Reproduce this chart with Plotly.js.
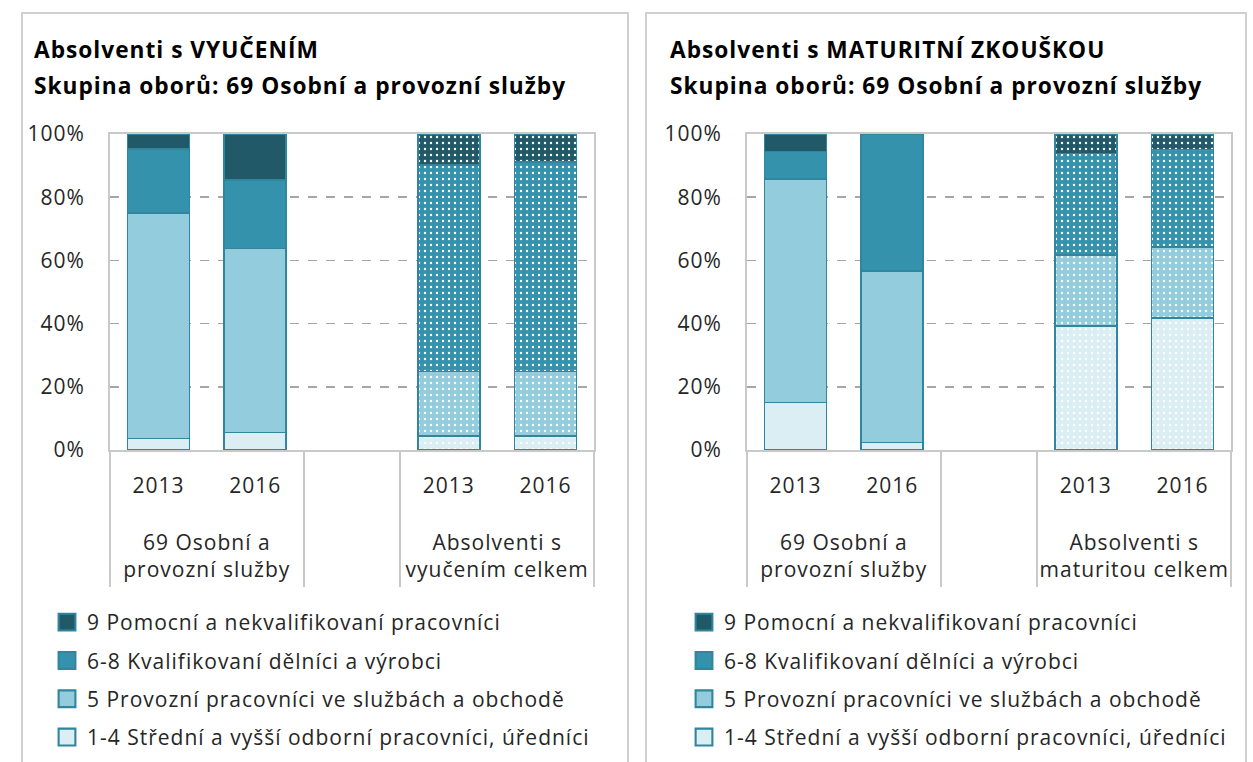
<!DOCTYPE html>
<html>
<head>
<meta charset="utf-8">
<script src="https://cdn.plot.ly/plotly-3.0.1.min.js"></script>
<style>html,body{margin:0;padding:0;background:#fff;}#chart{width:1253px;height:762px;}text{letter-spacing:1px;}</style>
</head>
<body>
<div id="chart"></div>
<script>
// ---- data (percent shares) ----
const years = ['2013', '2016'];
const groupsLeft = ['69 Osobní a<br>provozní služby', 'Absolventi s<br>vyučením celkem'];
const groupsRight = ['69 Osobní a<br>provozní služby', 'Absolventi s<br>maturitou celkem'];
const seriesNames = [
  '1-4 Střední a vyšší odborní pracovníci, úředníci',
  '5 Provozní pracovníci ve službách a obchodě',
  '6-8 Kvalifikovaní dělníci a výrobci',
  '9 Pomocní a nekvalifikovaní pracovníci'
];
// left chart: Absolventi s VYUČENÍM  (order: group1 2013, 2016, group2 2013, 2016)
const left_1_4 = [3.7, 5.6, 4.4, 4.4];
const left_5   = [71.3, 58.1, 20.4, 20.4];
const left_6_8 = [20.2, 21.7, 65.4, 66.4];
const left_9   = [4.8, 14.6, 9.8, 8.8];
// right chart: Absolventi s MATURITNÍ ZKOUŠKOU
const right_1_4 = [15.0, 2.4, 39.2, 41.7];
const right_5   = [70.8, 54.2, 22.5, 22.6];
const right_6_8 = [8.6, 43.4, 32.2, 30.8];
const right_9   = [5.6, 0, 6.1, 4.9];
const yTicks = [0, 20, 40, 60, 80, 100];
const titleLeft = ['Absolventi s VYUČENÍM', 'Skupina oborů: 69 Osobní a provozní služby'];
const titleRight = ['Absolventi s MATURITNÍ ZKOUŠKOU', 'Skupina oborů: 69 Osobní a provozní služby'];

// ---- styling ----
const colors = ['#daeef3', '#93cddd', '#3592ad', '#215968'];
const lineColor = '#31859c';
const FONT = '"Open Sans", sans-serif';
const W = 1253, H = 762;
const px = v => v / W, py = v => (H - v) / H;

function xcats(groups) {
  // leading <br> leaves the gap between year row and group row
  const g = groups.map(s => '<br>' + s);
  const parents = [g[0], g[0], ' ', g[1], g[1]];
  const kids = [years[0], years[1], ' ', years[0], years[1]];
  return [parents, kids];
}
function withGap(arr) { return [arr[0], arr[1], null, arr[2], arr[3]]; }

const traces = [];
function addChart(groups, series, xa, ya, legendId) {
  const x = xcats(groups);
  series.forEach((vals, i) => {
    traces.push({
      type: 'bar', x: x, y: withGap(vals), name: seriesNames[i],
      xaxis: xa, yaxis: ya, legend: legendId, legendgroup: legendId + i,
      legendrank: series.length - i,
      width: 0.64,
      marker: {
        color: colors[i],
        line: {color: lineColor, width: 1.5},
        pattern: {shape: ['', '', '', '.', '.'], fgcolor: '#ffffff', bgcolor: colors[i],
                  fillmode: 'replace', size: 6, solidity: 0.12}
      },
      hoverinfo: 'skip'
    });
  });
}
addChart(groupsLeft, [left_1_4, left_5, left_6_8, left_9], 'x', 'y', 'legend');
addChart(groupsRight, [right_1_4, right_5, right_6_8, right_9], 'x2', 'y2', 'legend2');

const tickFont = {family: FONT, size: 21, color: '#262626'};
function xaxis(domain, anchor) {
  return {
    domain: domain, anchor: anchor, type: 'multicategory',
    showline: true, linecolor: '#c9c9c9', linewidth: 2, mirror: true,
    showgrid: false, ticks: '', tickfont: tickFont, ticklabelstandoff: 16,
    showdividers: true, dividercolor: '#c9c9c9', dividerwidth: 2,
    fixedrange: true
  };
}
function yaxis(anchor) {
  return {
    domain: [py(450), py(134)], anchor: anchor, range: [0, 100],
    tickvals: yTicks, ticktext: yTicks.map(v => v + '%'),
    showline: true, linecolor: '#c9c9c9', linewidth: 2, mirror: true,
    showgrid: true, gridcolor: '#a6a6a6', gridwidth: 1.5, griddash: 'dash',
    zeroline: false, ticks: '', tickfont: tickFont, ticklabelstandoff: 19,
    fixedrange: true
  };
}

const titleFont = {family: FONT, size: 22.7, color: '#000000', weight: 'bold'};
const annotations = [];
[[titleLeft, 32], [titleRight, 668]].forEach(([t, x0]) => {
  annotations.push({xref: 'paper', yref: 'paper', x: px(x0), y: py(49), xanchor: 'left', yanchor: 'middle', text: '<b>' + t[0] + '</b>', showarrow: false, font: titleFont});
  annotations.push({xref: 'paper', yref: 'paper', x: px(x0), y: py(86), xanchor: 'left', yanchor: 'middle', text: '<b>' + t[1] + '</b>', showarrow: false, font: titleFont});
});

const shapes = [
  {type: 'rect', xref: 'paper', yref: 'paper', x0: px(22), x1: px(628), y0: -0.05, y1: py(13), line: {color: '#d0d0d0', width: 2}, layer: 'below'},
  {type: 'rect', xref: 'paper', yref: 'paper', x0: px(646), x1: px(1246), y0: -0.05, y1: py(13), line: {color: '#d0d0d0', width: 2}, layer: 'below'}
];

const legendBase = {
  orientation: 'v', traceorder: 'grouped', yanchor: 'top', y: py(602),
  font: {family: FONT, size: 21, color: '#262626'}, tracegroupgap: 8,
  bgcolor: 'rgba(0,0,0,0)', itemclick: false, itemdoubleclick: false
};

const layout = {
  width: W, height: H, margin: {l: 0, r: 0, t: 0, b: 0},
  paper_bgcolor: '#ffffff', plot_bgcolor: '#ffffff',
  barmode: 'stack', bargap: 0.36,
  font: {family: FONT, color: '#262626'},
  xaxis: xaxis([px(110), px(594)], 'y'),
  yaxis: yaxis('x'),
  xaxis2: xaxis([px(747), px(1231)], 'y2'),
  yaxis2: yaxis('x2'),
  legend: Object.assign({}, legendBase, {x: px(47), xanchor: 'left'}),
  legend2: Object.assign({}, legendBase, {x: px(684), xanchor: 'left'}),
  annotations: annotations,
  shapes: shapes,
  showlegend: true
};

Plotly.newPlot('chart', traces, layout, {staticPlot: true, displayModeBar: false}).then(() => {
  const root = document.getElementById('chart');
  // enlarge legend swatches to the reference's square size
  root.querySelectorAll('.legendpoints path').forEach(p => {
    const t = p.getAttribute('transform') || '';
    p.setAttribute('transform', t + ' scale(1.4)');
  });
  // push the group (second-level) category labels down a little, as in the reference
  root.querySelectorAll('.xtick2 text, .x2tick2 text').forEach(t => {
    const tr = t.getAttribute('transform') || '';
    t.setAttribute('transform', tr + ' translate(0,15)');
  });
  // lengthen the group dividers accordingly
  root.querySelectorAll('path.xdivider, path.x2divider').forEach(p => {
    const d = p.getAttribute('d') || '';
    p.setAttribute('d', d.replace(/([vV])(-?[\d.]+)/, (m, c, n) => c + (parseFloat(n) + (parseFloat(n) < 0 ? -18 : 18))));
  });
});
</script>
</body>
</html>
